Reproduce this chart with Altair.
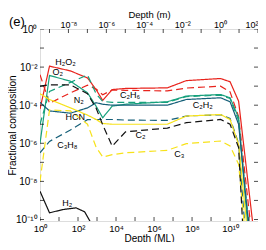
import altair as alt
import pandas as pd

# log10 depth (ML) grid shared by most species
GRID = [0, 0.5, 1.6, 2.5, 2.95, 3.3, 3.8, 4.5, 6.7, 7.7, 9.5, 10.0, 10.45, 11.2]

# log10 fractional composition
RED_SOLID = [-4.2, -1.95, -2.2, -2.57, -3.18, -3.75, -3.18, -3.12, -3.09, -2.71, -2.6, -2.77, -3.79, -10.26]
RED_DASH = [-2.4, -3.9, -3.35, -2.95, -3.15, -3.45, -3.2, -3.22, -3.25, -3.1, -3.0, -3.3, -4.6, -11.35]
GREEN_SOLID = [-6.0, -2.44, -2.74, -3.35, -4.05, -4.66, -4.05, -3.95, -3.82, -3.52, -3.44, -3.61, -4.66, -13.6]
GREEN_DASH = [-5.0, -3.28, -2.8, -2.41, -3.4, -3.8, -3.85, -3.85, -3.85, -3.55, -3.47, -3.65, -4.8, -12.6]
TEAL_SOLID = [-3.85, -4.3, -4.42, -4.14, -3.87, -3.95, -4.0, -4.0, -4.0, -3.7, -3.61, -3.82, -5.0, -12.5]
TEAL_DASH = [-6.5, -5.9, -5.3, -4.76, -4.75, -4.75, -4.75, -4.78, -4.8, -4.57, -4.5, -4.7, -6.0, -16.0]
YELLOW_SOLID = [-3.4, -3.7, -4.14, -4.52, -4.75, -4.96, -5.0, -5.0, -5.0, -4.57, -4.49, -4.75, -6.06, -13.5]
YELLOW_DASH = [-8.0, -4.25, -4.3, -5.0, -6.2, -6.72, -6.6, -6.5, -6.37, -6.02, -5.88, -6.14, -7.1, -15.0]
BLACK_DASH = [-3.0, -2.93, -2.93, -3.4, -4.15, -5.03, -6.15, -5.4, -5.2, -4.92, -4.75, -5.0, -6.23, -20.4]

H2_GRID = [0, 0.5, 1.2, 1.9, 2.35, 2.75]
BLACK_SOLID = [-8.52, -9.65, -9.48, -9.39, -9.6, -10.3]

SERIES = ["red_solid", "red_dash", "green_solid", "green_dash", "teal_solid",
          "teal_dash", "yellow_solid", "yellow_dash", "black_dash", "black_solid"]
COLORS = ["#e8231c", "#e8231c", "#16a07c", "#16a07c", "#155f78",
          "#155f78", "#f7e21a", "#f7e21a", "#111111", "#111111"]
DASHED = [False, True, False, True, False, True, False, True, True, False]

LABELS = ["H₂O₂", "O₂", "N₂", "HCN", "C₂H₆", "C₂H₂", "C₂", "C₃", "C₃H₈", "H₂"]
LABEL_LX = [1.34, 0.94, 2.04, 1.86, 4.74, 8.56, 5.29, 7.33, 1.44, 1.44]
LABEL_LY = [-1.73, -2.25, -3.74, -4.6, -3.48, -3.98, -5.58, -6.57, -6.07, -9.14]

X_DOMAIN = [1.0, 10 ** 11.47]
TOP_DOMAIN = [10 ** -9.5, 10 ** 2.0]
Y_DOMAIN = [10 ** -10.08, 1.0]

X_LABELS = [1e0, 1e2, 1e4, 1e6, 1e8, 1e10]
TOP_LABELS = [1e-8, 1e-6, 1e-4, 1e-2, 1e0, 1e2]
Y_LABELS = [1e0, 1e-2, 1e-4, 1e-6, 1e-8, 1e-10]
X_TICKS = [10.0 ** k for k in range(0, 12)]
TOP_TICKS = [10.0 ** k for k in range(-9, 3)]
Y_TICKS = [10.0 ** -k for k in range(0, 11)]

FONT = "Liberation Sans"

rows = []
ys_all = [RED_SOLID, RED_DASH, GREEN_SOLID, GREEN_DASH, TEAL_SOLID, TEAL_DASH,
          YELLOW_SOLID, YELLOW_DASH, BLACK_DASH]
for name, ys in zip(SERIES[:9], ys_all):
    for i, (gx, gy) in enumerate(zip(GRID, ys)):
        rows.append({"series": name, "x": 10 ** gx, "y": 10 ** gy, "o": i})
for i, (gx, gy) in enumerate(zip(H2_GRID, BLACK_SOLID)):
    rows.append({"series": "black_solid", "x": 10 ** gx, "y": 10 ** gy, "o": i})
df = pd.DataFrame(rows)

lab_df = pd.DataFrame({"label": LABELS,
                       "x": [10 ** v for v in LABEL_LX],
                       "y": [10 ** v for v in LABEL_LY]})

sup = {"-": "⁻", "0": "⁰", "1": "¹", "2": "²", "4": "⁴", "6": "⁶", "8": "⁸"}
e = "('' + round(log(datum.value) / LN10))"
for k, v in sup.items():
    e = f"replace({e}, '{k}', '{v}')"
LABEL_EXPR = "'10' + " + e

xscale = alt.Scale(type="log", domain=X_DOMAIN, nice=False)
yscale = alt.Scale(type="log", domain=Y_DOMAIN, nice=False)
tscale = alt.Scale(type="log", domain=TOP_DOMAIN, nice=False)

common = dict(ticks=False, domain=False, grid=False, labelFont=FONT, titleFont=FONT,
              titleFontWeight="normal",
              labelColor="black", titleColor="black", labelOverlap=False)

bottom_axis = alt.Axis(values=X_LABELS, labelExpr=LABEL_EXPR, title="Depth (ML)",
                       labelFontSize=9.5, labelPadding=2, labelFlush=False, titleFontSize=10,
                       titleY=20, titleBaseline="alphabetic", **common)
left_axis = alt.Axis(values=Y_LABELS, labelExpr=LABEL_EXPR, title="Fractional composition",
                     labelFontSize=10, labelPadding=3, labelFlush=False, titleFontSize=10,
                     titleX=-28, titleY=96, titleAngle=270,
                     titleBaseline="middle", titleAlign="center", **common)
top_axis = alt.Axis(orient="top", values=TOP_LABELS, labelExpr=LABEL_EXPR, title="Depth (m)",
                    labelFontSize=9, labelPadding=0, labelFlush=True, titleFontSize=9.5,
                    titleY=-12, titleBaseline="alphabetic", **common)

X = alt.X("x:Q", scale=xscale, axis=bottom_axis)
Y = alt.Y("y:Q", scale=yscale, axis=left_axis)

lines = alt.Chart(df).mark_line(clip=True, strokeWidth=1.2).encode(
    x=X, y=Y,
    color=alt.Color("series:N", scale=alt.Scale(domain=SERIES, range=COLORS), legend=None),
    strokeDash=alt.StrokeDash("series:N", scale=alt.Scale(
        domain=SERIES, range=[[7, 4] if d else [1, 0] for d in DASHED]), legend=None),
    order="o:Q",
)

texts = alt.Chart(lab_df).mark_text(font=FONT, fontSize=9, color="black").encode(
    x=X, y=Y, text="label:N")

bt = pd.DataFrame({"x": X_TICKS, "y": [Y_DOMAIN[0]] * len(X_TICKS)})
lt = pd.DataFrame({"x": [X_DOMAIN[0]] * len(Y_TICKS), "y": Y_TICKS})
rt = pd.DataFrame({"x": [X_DOMAIN[1]] * len(Y_TICKS), "y": Y_TICKS})
tt = pd.DataFrame({"m": TOP_TICKS, "y": [Y_DOMAIN[1]] * len(TOP_TICKS)})

bticks = alt.Chart(bt).mark_tick(orient="vertical", size=8, thickness=1, clip=True,
                                 color="black").encode(x=X, y=Y)
lticks = alt.Chart(lt).mark_tick(orient="horizontal", size=8, thickness=1, clip=True,
                                 color="black").encode(x=X, y=Y)
rticks = alt.Chart(rt).mark_tick(orient="horizontal", size=8, thickness=1, clip=True,
                                 color="black").encode(x=X, y=Y)

main = alt.layer(lines, texts, bticks, lticks, rticks)

top = alt.Chart(tt).mark_tick(orient="vertical", size=8, thickness=1, clip=True,
                              color="black").encode(
    x=alt.X("m:Q", scale=tscale, axis=top_axis), y=Y)

chart = alt.layer(main, top).resolve_scale(x="independent").properties(
    width=218, height=192,
    autosize=alt.AutoSizeParams(type="none"),
    padding={"left": 32, "top": 21, "right": 0, "bottom": 21},
    title=alt.TitleParams("(e)", anchor="start", frame="group", dx=-31, dy=20, fontSize=13,
                          font=FONT, fontWeight="normal", color="black", offset=0),
).configure_view(stroke="black", strokeWidth=1).configure(background="white")

chart.save("out.html", embed_options={"renderer": "svg", "actions": False})
